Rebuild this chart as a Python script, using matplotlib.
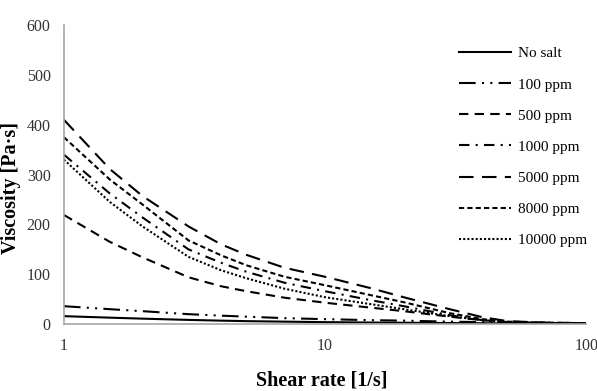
import matplotlib
matplotlib.use("Agg")
import matplotlib.pyplot as plt
import numpy as np

plt.rcParams['font.family'] = ['Liberation Serif', 'DejaVu Serif']

# shear rate points [1/s]
shear = [1, 1.5, 2, 3, 4, 5, 7, 10, 15, 20, 30, 40, 50, 70, 100]

# viscosity [Pa.s]
no_salt = [16, 13, 11, 8.5, 7, 6, 5, 4, 3.2, 2.8, 2.2, 1.8, 1.5, 1.2, 1]
ppm100 = [36, 30, 26, 20, 17, 15, 12, 10, 8, 7, 5, 4, 3, 2.5, 2]
ppm500 = [219, 165, 134, 94, 76, 66, 53, 43, 33, 26, 15, 8, 4, 2, 1.5]
ppm1000 = [340, 262, 214, 150, 123, 105, 83, 66, 48, 36, 18, 8, 4, 2, 1.5]
ppm5000 = [410, 311, 257, 196, 160, 139, 113, 95, 72, 54, 30, 14, 6, 3, 2]
ppm8000 = [375, 290, 240, 168, 138, 118, 95, 78, 58, 44, 22, 10, 5, 3, 2]
ppm10000 = [330, 245, 196, 135, 108, 92, 71, 54, 40, 30, 16, 8, 4, 2, 1.5]

labels = ["No salt", "100 ppm", "500 ppm", "1000 ppm", "5000 ppm", "8000 ppm", "10000 ppm"]
series = [no_salt, ppm100, ppm500, ppm1000, ppm5000, ppm8000, ppm10000]
styles = ['-', (0, (8, 3, 1, 3, 1, 3)), (0, (4.5, 3)), (0, (5, 3, 1, 3)),
          (0, (7, 4)), (0, (2.5, 1.5)), (0, (1, 1))]

fig = plt.figure(figsize=(5.97, 3.91), dpi=100)
ax = fig.add_axes([0.107, 0.171, 0.875, 0.765])

for y, lab, ls in zip(series, labels, styles):
    ax.plot(shear, y, color='black', linestyle=ls, lw=1.5, label=lab)

ax.set_xscale('log')
ax.set_xlim(1, 100)
ax.set_ylim(0, 600)
ax.set_yticks(np.arange(0, 601, 100))
ax.set_xticks([1, 10, 100])
ax.set_xticklabels(['1', '10', '100'])
ax.minorticks_off()
ax.tick_params(axis='both', length=0, labelsize=11.5, colors='#333333')
ax.tick_params(axis='y', pad=9.5)
ax.tick_params(axis='x', pad=10)

# axis titles
fig.text(322/597, 1 - 380/391, "Shear rate [1/s]", fontsize=14.5, fontweight='bold',
         ha='center', va='center')
fig.text(11/597, 1 - 188/391, "Viscosity [Pa·s]", fontsize=14.5, fontweight='bold',
         ha='center', va='center', rotation=90)

for s in ['top', 'right']:
    ax.spines[s].set_visible(False)
for s in ['left', 'bottom']:
    ax.spines[s].set_color('#a6a6a6')
    ax.spines[s].set_linewidth(1.2)

ax.legend(loc='upper left', bbox_to_anchor=(445/597, 1 - 33/391),
          bbox_transform=fig.transFigure, frameon=False,
          fontsize=11, handlelength=3.4, labelspacing=1.14, handletextpad=0.45)

fig.savefig("out.png", dpi=100)
